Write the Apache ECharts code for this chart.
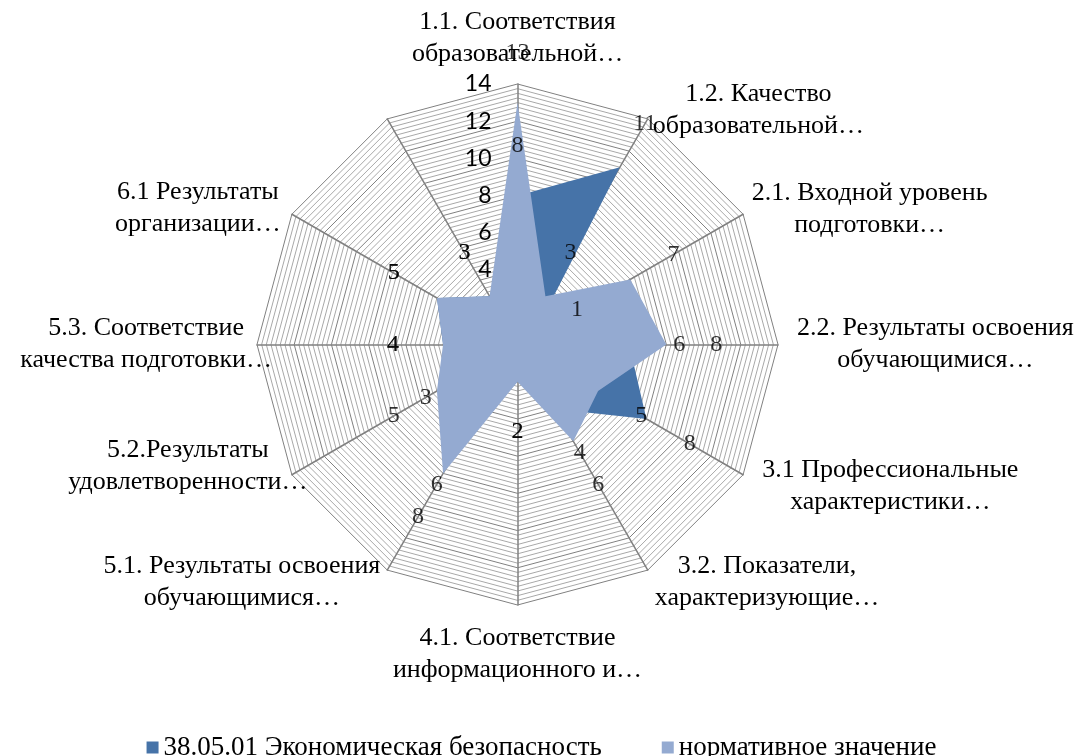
<!DOCTYPE html>
<html>
<head>
<meta charset="utf-8">
<script src="https://cdn.jsdelivr.net/npm/echarts@6/dist/echarts.min.js"></script>
<style>
html, body { margin: 0; padding: 0; background: #fff; }
#chart { width: 1083px; height: 756px; }
</style>
</head>
<body>
<div id="chart"></div>
<script>
const categories = [
    '1.1. Соответствия\nобразовательной…',
    '1.2. Качество\nобразовательной…',
    '2.1. Входной уровень\nподготовки…',
    '2.2. Результаты освоения\nобучающимися…',
    '3.1 Профессиональные\nхарактеристики…',
    '3.2. Показатели,\nхарактеризующие…',
    '4.1. Соответствие\nинформационного и…',
    '5.1. Результаты освоения\nобучающимися…',
    '5.2.Результаты\nудовлетворенности…',
    '5.3. Соответствие\nкачества подготовки…',
    '6.1 Результаты\nорганизации…',
    ''
];
const seriesNames = ['38.05.01 Экономическая безопасность', 'нормативное значение'];
const programValues = [8, 11, 1, 6, 8, 4, 2, 6, 3, 4, 5, 3];
const normValues = [13, 3, 7, 8, 5, 6, 2, 8, 5, 4, 5, 3];
const axisMin = 0;
const axisMax = 14;

const darkBlue = '#4673A8';
const lightBlue = '#94AAD1';
const center = [517.5, 344.5];
const radius = 260.5;
const serif = 'Liberation Serif';
const nameGaps = [14, 10, 10, 19, 22, 14, 17, 14, -18, -15, 13, 10];

// echarts radar goes counter-clockwise, excel goes clockwise
const order = [0].concat(categories.map((c, i) => i).slice(1).reverse());
const pick = arr => order.map(i => arr[i]);

// minor ring every 0.25, darker ring every 2
const ringColors = ['#808080', '#a8a8a8', '#a8a8a8', '#a8a8a8', '#a8a8a8', '#a8a8a8', '#a8a8a8', '#a8a8a8'];

const labelShift = 50;
const labelData = vals => vals.map((v, i) => {
    const a = i * 360 / categories.length;
    const rad = a * Math.PI / 180;
    return {
        value: [v, a],
        label: {offset: [labelShift * Math.sin(rad), -labelShift * Math.cos(rad)]}
    };
});

const valueLabel = {
    show: true, position: 'inside', color: '#000', textBorderWidth: 0,
    fontFamily: serif, fontSize: 24,
    formatter: p => p.value[0]
};

const chart = echarts.init(document.getElementById('chart'));
chart.setOption({
    animation: false,
    legend: {
        data: seriesNames,
        top: 729,
        left: 'center',
        icon: 'rect',
        itemWidth: 12,
        itemHeight: 12,
        itemGap: 60,
        textStyle: {color: '#000', fontFamily: serif, fontSize: 27}
    },
    radar: {
        center: center,
        radius: radius,
        startAngle: 90,
        shape: 'polygon',
        splitNumber: 56,
        indicator: order.map((i, k) => {
            const ind = {name: categories[i], min: axisMin, max: axisMax, nameGap: nameGaps[i]};
            if (k > 0) ind.axisLabel = {show: false};
            return ind;
        }),
        axisName: {
            color: '#000',
            fontFamily: serif,
            fontSize: 26,
            lineHeight: 32,
            formatter: name => name ? name.split('\n').map(s => '{c|' + s + '}').join('\n') : '',
            rich: {
                c: {align: 'center', color: '#000', fontFamily: serif, fontSize: 26, lineHeight: 32}
            }
        },
        axisLine: {lineStyle: {color: '#808080', width: 1.5}},
        splitLine: {lineStyle: {color: ringColors, width: 1}},
        splitArea: {show: false},
        axisTick: {show: false},
        axisLabel: {
            show: true,
            margin: 26,
            color: '#000',
            fontFamily: 'Lato',
            fontSize: 23,
            formatter: v => (Math.abs(v / 2 - Math.round(v / 2)) < 1e-6 ? String(Math.round(v)) : '')
        }
    },
    polar: {center: center, radius: radius},
    angleAxis: {type: 'value', min: 0, max: 360, startAngle: 90, clockwise: true, show: false},
    radiusAxis: {type: 'value', min: axisMin, max: axisMax, show: false},
    series: [
        {
            type: 'radar',
            symbol: 'none',
            lineStyle: {width: 0, opacity: 0},
            data: [
                {
                    name: seriesNames[0],
                    value: pick(programValues),
                    itemStyle: {color: darkBlue},
                    areaStyle: {color: darkBlue, opacity: 1}
                },
                {
                    name: seriesNames[1],
                    value: pick(normValues),
                    itemStyle: {color: lightBlue},
                    areaStyle: {color: lightBlue, opacity: 1}
                }
            ]
        },
        {
            type: 'scatter',
            coordinateSystem: 'polar',
            symbolSize: 1,
            itemStyle: {color: 'rgba(0,0,0,0)'},
            silent: true,
            z: 10,
            label: valueLabel,
            data: labelData(programValues)
        },
        {
            type: 'scatter',
            coordinateSystem: 'polar',
            symbolSize: 1,
            itemStyle: {color: 'rgba(0,0,0,0)'},
            silent: true,
            z: 10,
            label: valueLabel,
            data: labelData(normValues)
        }
    ]
});
</script>
</body>
</html>
